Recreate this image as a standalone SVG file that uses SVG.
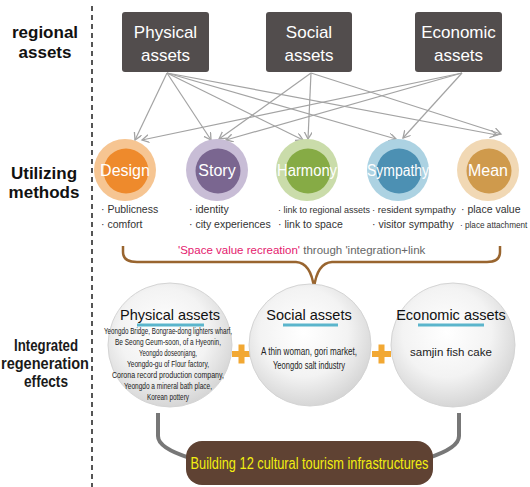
<svg xmlns="http://www.w3.org/2000/svg" width="530" height="487" viewBox="0 0 530 487">
<defs>
<style>
.lbl{font-family:"Liberation Sans",Arial,sans-serif;font-weight:bold;font-size:17px;fill:#111;text-anchor:middle}
.lbl2{font-family:"Liberation Sans",Arial,sans-serif;font-weight:bold;font-size:16px;fill:#1a1a1a;text-anchor:middle}
.box{fill:#524d4d}
.boxt{font-family:"Liberation Sans",Arial,sans-serif;font-size:17px;fill:#fff;text-anchor:middle}
.mt{font-family:"Liberation Sans",Arial,sans-serif;font-size:16px;fill:#fff;text-anchor:middle}
.bul{font-family:"Liberation Sans",Arial,sans-serif;font-size:10.5px;fill:#333}
.conn line{stroke:#a3a3a3;stroke-width:1.2;marker-end:url(#ah)}
.ct{font-family:"Liberation Sans",Arial,sans-serif;font-size:14.5px;fill:#111;text-anchor:middle}
.cb{font-family:"Liberation Sans",Arial,sans-serif;font-size:9px;fill:#222;text-anchor:middle}
.cb2{font-family:"Liberation Sans",Arial,sans-serif;font-size:10.5px;fill:#222;text-anchor:middle}
.ul{stroke:#5bb5cc;stroke-width:3}
.ac{fill:url(#cg);stroke:#d4d4d4;stroke-width:1}
.plus{fill:#f2a833}
</style>
<marker id="ah" markerWidth="10" markerHeight="10" refX="7" refY="4" orient="auto" markerUnits="userSpaceOnUse"><path d="M0,0 L7,4 L0,8" fill="none" stroke="#a3a3a3" stroke-width="1.3"/></marker>
<radialGradient id="cg" cx="45%" cy="40%" r="60%"><stop offset="0" stop-color="#ffffff"/><stop offset="0.6" stop-color="#f3f3f3"/><stop offset="1" stop-color="#d6d6d6"/></radialGradient>
</defs>

<line x1="92" y1="6" x2="92" y2="487" stroke="#555" stroke-width="2" stroke-dasharray="5,4"/>

<g id="labels">
<text class="lbl" x="45" y="38">regional</text>
<text class="lbl" x="45" y="58">assets</text>
<text class="lbl" x="44" y="179">Utilizing</text>
<text class="lbl" x="44" y="198">methods</text>
<text class="lbl2" x="46" y="351" textLength="64" lengthAdjust="spacingAndGlyphs">Integrated</text>
<text class="lbl2" x="45" y="369" textLength="88" lengthAdjust="spacingAndGlyphs">regeneration</text>
<text class="lbl2" x="46" y="387" textLength="44" lengthAdjust="spacingAndGlyphs">effects</text>
</g>

<g id="connectors" class="conn">
<line x1="167" y1="73" x2="135" y2="140"/>
<line x1="167" y1="73" x2="211" y2="140"/>
<line x1="167" y1="73" x2="303" y2="140"/>
<line x1="167" y1="73" x2="396" y2="139"/>
<line x1="167" y1="73" x2="497" y2="135"/>
<line x1="311" y1="73" x2="219" y2="139"/>
<line x1="311" y1="73" x2="308" y2="139"/>
<line x1="311" y1="73" x2="501" y2="134"/>
<line x1="462" y1="73" x2="142" y2="140"/>
<line x1="462" y1="73" x2="226" y2="140"/>
<line x1="462" y1="73" x2="403" y2="138"/>
</g>

<g id="box-physical"><rect class="box" x="122" y="12" width="87" height="60" rx="3"/><text class="boxt" x="165.5" y="38">Physical</text><text class="boxt" x="165.5" y="61">assets</text></g>
<g id="box-social"><rect class="box" x="266" y="12" width="86" height="60" rx="3"/><text class="boxt" x="309" y="38">Social</text><text class="boxt" x="309" y="61">assets</text></g>
<g id="box-economic"><rect class="box" x="415" y="12" width="87" height="60" rx="3"/><text class="boxt" x="458.5" y="38">Economic</text><text class="boxt" x="458.5" y="61">assets</text></g>

<g id="m-design"><circle cx="125" cy="170" r="31" fill="#f6c592"/><circle cx="126" cy="171" r="22.5" fill="#ee8a2c"/><text class="mt" x="125" y="176">Design</text></g>
<g id="m-story"><circle cx="217" cy="170" r="31" fill="#c8bdd6"/><circle cx="218" cy="171" r="22.5" fill="#7a6690"/><text class="mt" x="217" y="176">Story</text></g>
<g id="m-harmony"><circle cx="307" cy="170" r="31" fill="#cadcaa"/><circle cx="308" cy="171" r="22.5" fill="#86ab45"/><text class="mt" x="307" y="176" textLength="60" lengthAdjust="spacingAndGlyphs">Harmony</text></g>
<g id="m-sympathy"><circle cx="398" cy="170" r="31" fill="#acd2e2"/><circle cx="399" cy="171" r="22.5" fill="#4c90b3"/><text class="mt" x="398" y="176" textLength="62" lengthAdjust="spacingAndGlyphs">Sympathy</text></g>
<g id="m-mean"><circle cx="488" cy="170" r="31" fill="#f1d8b4"/><circle cx="489" cy="171" r="22.5" fill="#cf9a4c"/><text class="mt" x="488" y="176">Mean</text></g>

<g id="bullets">
<text class="bul" x="101" y="213">· Publicness</text>
<text class="bul" x="101" y="228">· comfort</text>
<text class="bul" x="189" y="213">· identity</text>
<text class="bul" x="189" y="228">· city experiences</text>
<text class="bul" x="278" y="213" style="font-size:9px">· link to regional assets</text>
<text class="bul" x="278" y="228">· link to space</text>
<text class="bul" x="372" y="213" style="font-size:9.6px">· resident sympathy</text>
<text class="bul" x="372" y="228">· visitor sympathy</text>
<text class="bul" x="461" y="213">· place value</text>
<text class="bul" x="460" y="228" style="font-size:8.2px">· place attachment</text>
</g>

<g id="brace">
<text x="178" y="254" font-family="Liberation Sans, Arial, sans-serif" font-size="11.5px"><tspan fill="#e4206e">'Space value recreation'</tspan><tspan fill="#666"> through 'integration+link</tspan></text>
<path d="M123,246 L123,252 Q123,262 137,262 L296,262 Q311,263 314,288 Q317,263 332,262 L487,262 Q500,262 500,252 L500,246" fill="none" stroke="#99652f" stroke-width="2.5"/>
</g>

<g id="bottom-connectors">
<path d="M158,413 L158,436 Q158,448 190,458" fill="none" stroke="#777" stroke-width="4"/>
<path d="M459,413 L459,436 Q459,448 428,458" fill="none" stroke="#777" stroke-width="4"/>
</g>

<g id="a-physical">
<circle class="ac" cx="170" cy="345" r="62"/>
<text class="ct" x="170" y="320">Physical assets</text>
<line class="ul" x1="137" y1="325" x2="204" y2="325"/>
<text class="cb" x="168" y="334" textLength="128" lengthAdjust="spacingAndGlyphs">Yeongdo Bridge, Bongrae-dong lighters wharf,</text>
<text class="cb" x="168" y="345" textLength="106" lengthAdjust="spacingAndGlyphs">Be Seong Geum-soon, of a Hyeonin,</text>
<text class="cb" x="168" y="356" textLength="58" lengthAdjust="spacingAndGlyphs">Yeongdo doseonjang,</text>
<text class="cb" x="168" y="367" textLength="82" lengthAdjust="spacingAndGlyphs">Yeongdo-gu of Flour factory,</text>
<text class="cb" x="168" y="378" textLength="112" lengthAdjust="spacingAndGlyphs">Corona record production company,</text>
<text class="cb" x="168" y="389" textLength="88" lengthAdjust="spacingAndGlyphs">Yeongdo a mineral bath place,</text>
<text class="cb" x="168" y="400" textLength="42" lengthAdjust="spacingAndGlyphs">Korean pottery</text>
</g>
<g id="plus1"><rect class="plus" x="232" y="351" width="19" height="6"/><rect class="plus" x="238.5" y="344.5" width="6" height="19"/></g>
<g id="a-social">
<circle class="ac" cx="310" cy="345" r="61"/>
<text class="ct" x="309" y="320">Social assets</text>
<line class="ul" x1="283" y1="325" x2="338" y2="325"/>
<text class="cb2" x="309" y="355" textLength="96" lengthAdjust="spacingAndGlyphs">A thin woman, gori market,</text>
<text class="cb2" x="309" y="369" textLength="72" lengthAdjust="spacingAndGlyphs">Yeongdo salt industry</text>
</g>
<g id="plus2"><rect class="plus" x="372" y="351" width="19" height="6"/><rect class="plus" x="378.5" y="344.5" width="6" height="19"/></g>
<g id="a-economic">
<circle class="ac" cx="453" cy="345" r="62"/>
<text class="ct" x="451" y="320">Economic assets</text>
<line class="ul" x1="418" y1="325" x2="484" y2="325"/>
<text class="cb2" x="451" y="356" style="font-size:11.5px">samjin fish cake</text>
</g>

<g id="result">
<rect x="186" y="441" width="247" height="44" rx="16" fill="#5f4233"/>
<text x="309.5" y="469" font-family="Liberation Sans, Arial, sans-serif" font-size="16px" fill="#f2ee10" text-anchor="middle" textLength="238" lengthAdjust="spacingAndGlyphs">Building 12 cultural tourism infrastructures</text>
</g>
</svg>
